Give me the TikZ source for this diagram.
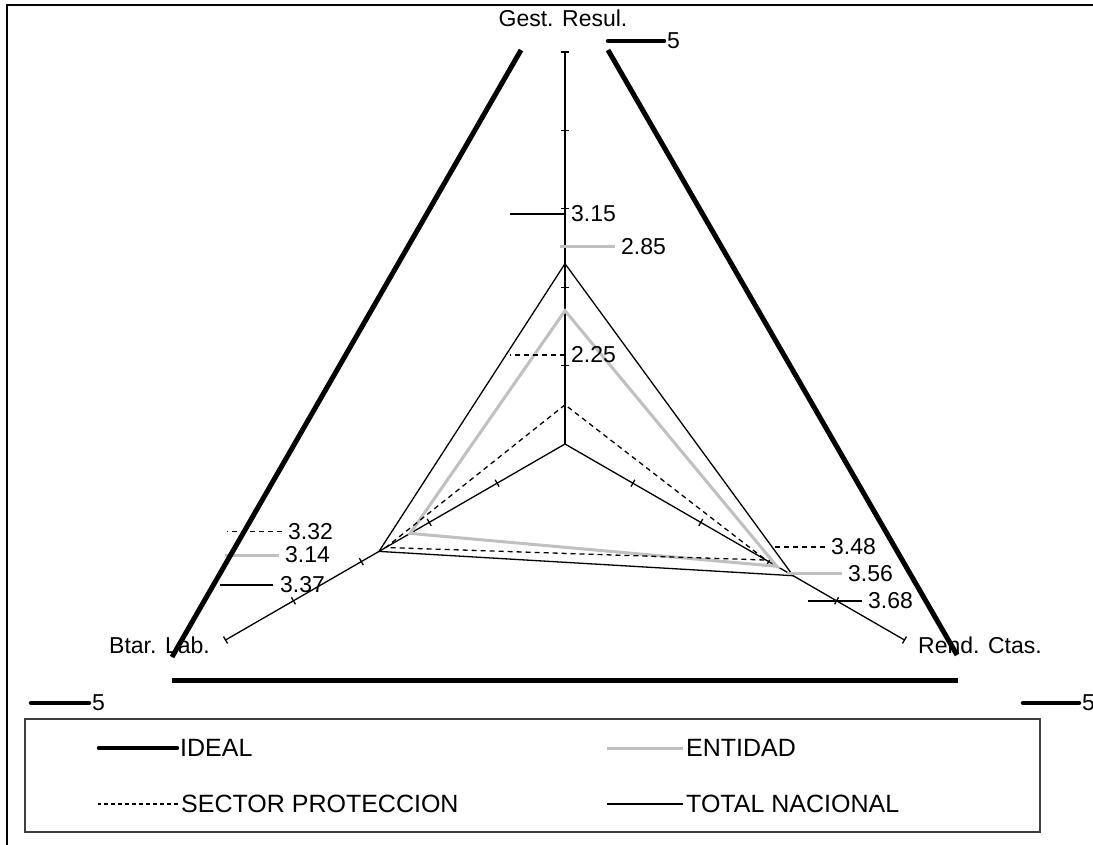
\documentclass[tikz,border=0pt]{standalone}
\usepackage{fontspec}
\setmainfont{Liberation Sans}
\usetikzlibrary{calc}
\definecolor{entgray}{HTML}{C0C0C0}
\definecolor{boxgray}{HTML}{404040}
\begin{document}
\begin{tikzpicture}[x=1pt,y=-1pt,
  axisline/.style={line width=1.3pt, black},
  totline/.style={line width=1.3pt, black},
  entline/.style={line width=3pt, entgray},
  secline/.style={line width=1.3pt, black, dash pattern=on 5pt off 4pt},
  idealline/.style={line width=5pt, black},
  markline/.style={line width=4.5pt, black, line cap=round},
  lbl/.style={font=\fontsize{23}{23}\selectfont, inner sep=0pt, anchor=west},
  lglbl/.style={font=\fontsize{25}{25}\selectfont, inner sep=0pt, anchor=west}]
\useasboundingbox (0,0) rectangle (1093,845);
\fill[white] (0,0) rectangle (1093,845);
% frame
\draw[line width=2pt] (7,845) -- (7,5) -- (1093,5);

% axes
\coordinate (C) at (565,444);
\coordinate (Gend) at ($(C)+392*(0,-1)$);
\coordinate (Bend) at ($(C)+392*(-0.866,0.5)$);
\coordinate (Rend) at ($(C)+392*(0.866,0.5)$);
\draw[axisline] (C) -- (Gend);
\draw[axisline] (C) -- (Bend);
\draw[axisline] (C) -- (Rend);
\foreach \k in {1,...,5} {
  \draw[axisline] ($(C)+{78.4*\k}*(0,-1)+(-4,0)$) -- ++(8,0);
  \draw[axisline] ($(C)+{78.4*\k}*(-0.866,0.5)+4*(0.5,0.866)$) -- ++(-4,-6.93);
  \draw[axisline] ($(C)+{78.4*\k}*(0.866,0.5)+4*(-0.5,0.866)$) -- ++(4,-6.93);
}

% data points
\coordinate (T1) at ($(C)+180.3*(0,-1)$);
\coordinate (T2) at ($(C)+214.8*(-0.866,0.5)$);
\coordinate (T3) at ($(C)+263.4*(0.866,0.5)$);
\coordinate (E1) at ($(C)+133.3*(0,-1)$);
\coordinate (E2) at ($(C)+178.8*(-0.866,0.5)$);
\coordinate (E3) at ($(C)+244.6*(0.866,0.5)$);
\coordinate (S1) at ($(C)+39.2*(0,-1)$);
\coordinate (S2) at ($(C)+207.0*(-0.866,0.5)$);
\coordinate (S3) at ($(C)+232.1*(0.866,0.5)$);
\draw[entline] (E1) -- (E2) -- (E3) -- cycle;
\draw[secline] (S1) -- (S2) -- (S3) -- cycle;
\draw[totline] (T1) -- (T2) -- (T3) -- cycle;

% value labels
\node[lbl] (l315) at (571,214) {3.15};
\draw[totline] ([xshift=-6pt]l315.west) -- ++(-55,0);
\node[lbl] (l285) at (621,246.5) {2.85};
\draw[entline] ([xshift=-6pt]l285.west) -- ++(-55,0);
\node[lbl] (l225) at (571,355) {2.25};
\draw[secline] ([xshift=-6pt]l225.west) -- ++(-55,0);

\node[lbl] (l332) at (288,531.5) {3.32};
\draw[secline] ([xshift=-6pt]l332.west) -- ++(-55,0);
\node[lbl] (l314) at (285,555) {3.14};
\draw[entline] ([xshift=-6pt]l314.west) -- ++(-54,0);
\node[lbl] (l337) at (280,585) {3.37};
\draw[totline] ([xshift=-7pt]l337.west) -- ++(-53,0);

\node[lbl] (l348) at (831,547) {3.48};
\draw[secline] ([xshift=-6pt]l348.west) -- ++(-53,0);
\node[lbl] (l356) at (848,573.5) {3.56};
\draw[entline] ([xshift=-6pt]l356.west) -- ++(-55,0);
\node[lbl] (l368) at (868,601) {3.68};
\draw[totline] ([xshift=-6pt]l368.west) -- ++(-54,0);

% axis labels
\node[lbl, anchor=center] (gest) at (563,18) {Gest. Resul.};
\node[lbl, anchor=east] (btar) at (210,645) {Btar. Lab.};
\node[lbl] (rendl) at (918,645) {Rend. Ctas.};

% ideal
\draw[idealline] (521,50) -- (172,657);
\draw[idealline] (608,50) -- (957,655);
\draw[idealline] (172,680) -- (958,680);

% "5" markers
\node[lbl] (f1) at (667,41) {5};
\draw[markline] ([xshift=-3pt]f1.west) -- ++(-56,0);
\node[lbl] (f2) at (92,703) {5};
\draw[markline] ([xshift=-3pt]f2.west) -- ++(-58,0);
\node[lbl] (f3) at (1082,703) {5};
\draw[markline] ([xshift=-3pt]f3.west) -- ++(-56,0);

% legend
\draw[line width=2pt, boxgray] (25,719) rectangle (1040,832);
\node[lglbl] (lgI) at (180,748) {IDEAL};
\draw[markline] ([xshift=-3pt]lgI.west) -- ++(-78,0);
\node[lglbl] (lgE) at (686,748) {ENTIDAD};
\draw[entline] ([xshift=-3pt]lgE.west) -- ++(-76,0);
\node[lglbl] (lgS) at (181,804) {SECTOR PROTECCION};
\draw[secline, dash pattern=on 4pt off 3pt] ([xshift=-3pt]lgS.west) -- ++(-80,0);
\node[lglbl] (lgT) at (686,804) {TOTAL NACIONAL};
\draw[totline] ([xshift=-3pt]lgT.west) -- ++(-76,0);
\end{tikzpicture}
\end{document}
